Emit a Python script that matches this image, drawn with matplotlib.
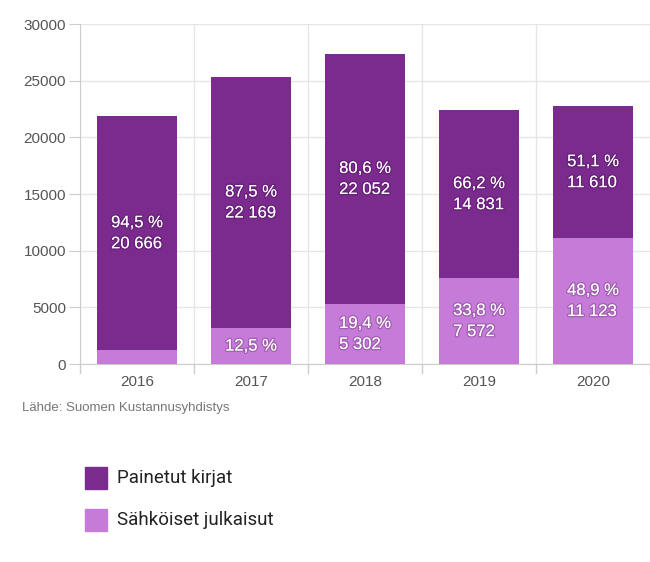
import matplotlib
matplotlib.use("Agg")
import matplotlib.pyplot as plt
import matplotlib.patheffects as pe
from matplotlib.patches import Rectangle

years = ["2016", "2017", "2018", "2019", "2020"]
printed = [20666, 22169, 22052, 14831, 11610]
electronic = [1203, 3167, 5302, 7572, 11123]
printed_labels = ["94,5 %\n20 666", "87,5 %\n22 169", "80,6 %\n22 052", "66,2 %\n14 831", "51,1 %\n11 610"]
electronic_labels = ["", "12,5 %", "19,4 %\n5 302", "33,8 %\n7 572", "48,9 %\n11 123"]
yticks = [0, 5000, 10000, 15000, 20000, 25000, 30000]
series_names = ["Painetut kirjat", "Sähköiset julkaisut"]
source = "Lähde: Suomen Kustannusyhdistys"

dark = "#7b2a8e"
light = "#c77bd9"

fig = plt.figure(figsize=(6.5, 5.62), dpi=100)
ax = fig.add_axes([80/650, 1-364/562, 570/650, 340/562])

x = list(range(len(years)))
w = 0.71
ax.bar(x, electronic, width=w, color=light, zorder=3)
ax.bar(x, printed, width=w, bottom=electronic, color=dark, zorder=3)

ax.set_ylim(0, 30000)
ax.set_xlim(-0.5, len(years) - 0.5)
ax.set_yticks(yticks)
ax.set_yticklabels([str(t) for t in yticks], fontsize=11, color="#555555", family="Liberation Sans")
ax.set_xticks(x)
ax.set_xticklabels(years, fontsize=11, color="#555555", family="Liberation Sans")
ax.tick_params(axis="x", length=0, pad=8)
ax.tick_params(axis="y", length=8, color="#cccccc", pad=2)
for b in [i - 0.5 for i in range(len(years) + 1)]:
    ax.axvline(b, color="#e6e6e6", lw=1, zorder=1)
    ax.plot([b, b], [0, -0.025], transform=ax.get_xaxis_transform(), color="#cccccc", lw=1, clip_on=False)
ax.yaxis.grid(True, color="#e6e6e6", lw=1, zorder=1)
for s in ["top", "right"]:
    ax.spines[s].set_visible(False)
ax.spines["left"].set_color("#cccccc")
ax.spines["bottom"].set_color("#cccccc")

effects = [pe.withStroke(linewidth=2, foreground=(0.15, 0, 0.2, 0.22))]
for i in x:
    yc = electronic[i] + printed[i] / 2
    ax.text(i, yc, printed_labels[i], ha="center", va="center", multialignment="left",
            color="white", fontsize=12, family="Liberation Sans", linespacing=1.5,
            path_effects=effects, zorder=5)
    if electronic_labels[i]:
        ax.text(i, electronic[i] / 2, electronic_labels[i], ha="center", va="center",
                multialignment="left", color="white", fontsize=12, family="Liberation Sans",
                linespacing=1.5, path_effects=effects, zorder=5)

fig.text(22/650, 1-408/562, source, fontsize=9.5, color="#777777", family="Liberation Sans", va="center")

for j, (name, col) in enumerate(zip(series_names, [dark, light])):
    yc = 478 + j * 42
    fig.patches.append(Rectangle((85/650, 1-(yc+11)/562), 22/650, 22/562, transform=fig.transFigure,
                                 facecolor=col, edgecolor=col, figure=fig))
    fig.text(117/650, 1-yc/562, name, fontsize=13.5, color="#222222", family="Roboto", va="center")

fig.savefig("out.png", dpi=100)
